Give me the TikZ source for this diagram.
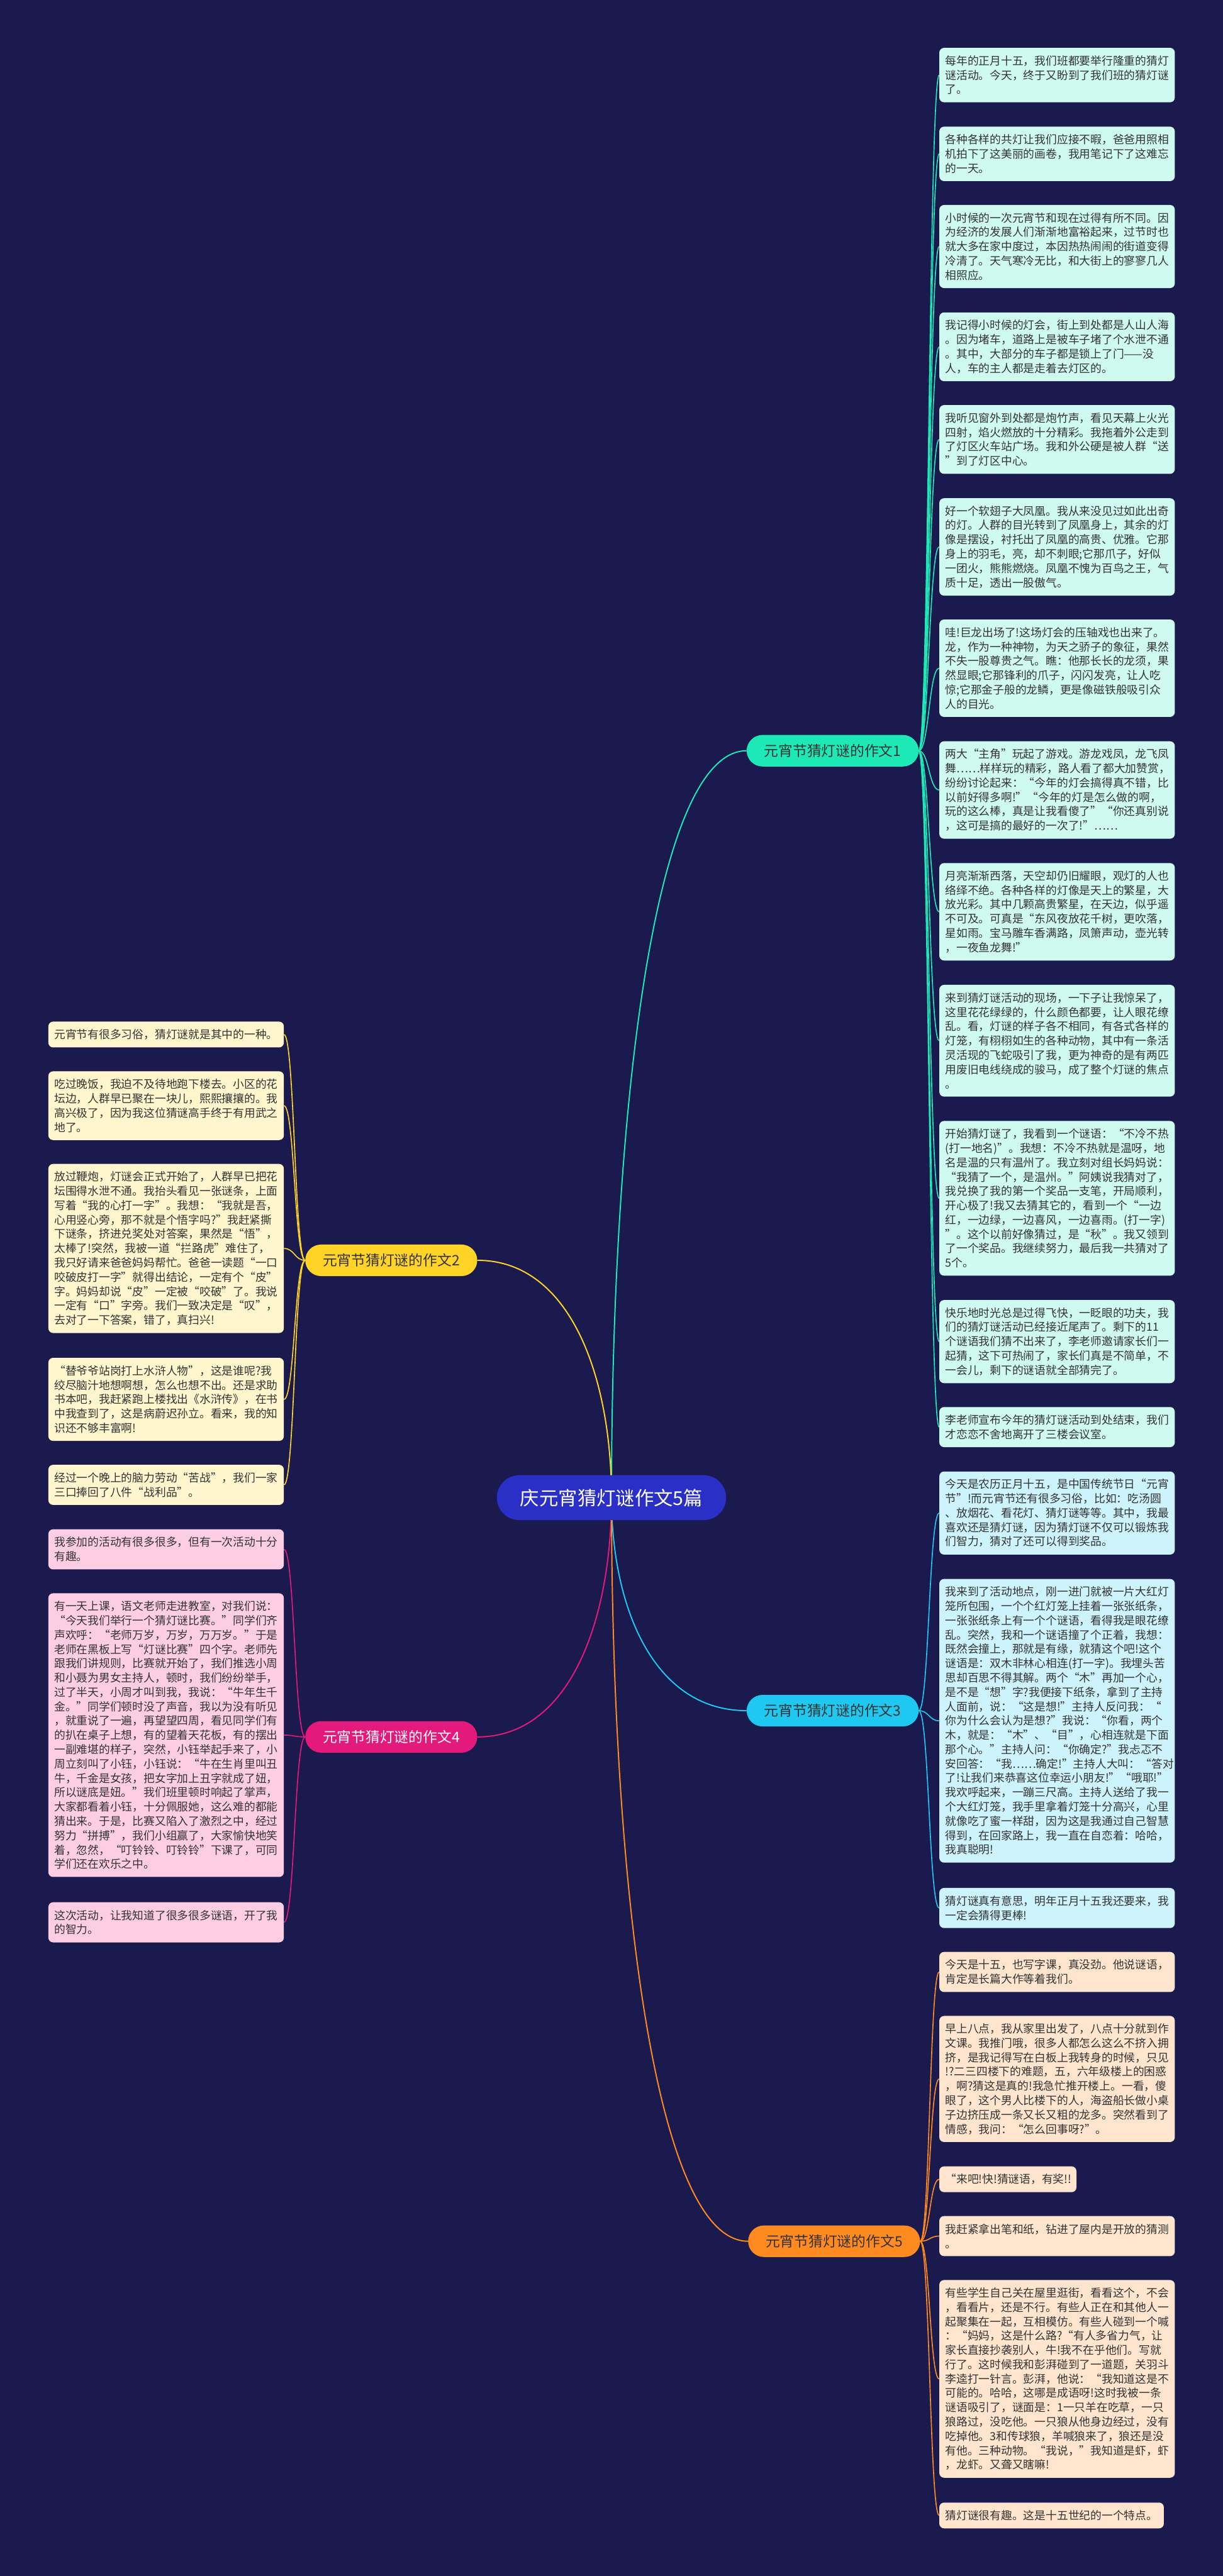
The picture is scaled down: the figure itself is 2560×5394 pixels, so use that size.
\documentclass[tikz,border=0pt]{standalone}
\usepackage{fontspec}
\newfontfamily\cjk{Noto Sans CJK SC}
\usetikzlibrary{calc}
\pgfdeclarelayer{bglayer}
\pgfdeclarelayer{edgelayer}
\pgfsetlayers{bglayer,edgelayer,main}
\definecolor{bgcol}{HTML}{1B1A4F}
\definecolor{ccol}{HTML}{2A2FC8}
\definecolor{aone}{HTML}{1DE9B6}
\definecolor{atwo}{HTML}{FFD426}
\definecolor{athree}{HTML}{1EC8F0}
\definecolor{afour}{HTML}{E3197B}
\definecolor{afive}{HTML}{FF8A1F}
\definecolor{lone}{HTML}{CFFAF0}
\definecolor{ltwo}{HTML}{FFF6CE}
\definecolor{lthree}{HTML}{CDF3FC}
\definecolor{lfour}{HTML}{FDCDE3}
\definecolor{lfive}{HTML}{FFE5CE}
\definecolor{ltext}{HTML}{333333}
\newcommand\mybranch[3]{\draw[#3] (#1) .. controls ($(#1)!0.5!(#1 |- #2)$) and ($(#1 |- #2)!0.3!(#2)$) .. (#2);}
\newcommand\myleaf[3]{\draw[#3] (#1) .. controls ($(#1)!0.5!(#1 -| #2)$) and ($(#2)!0.5!(#2 -| #1)$) .. (#2);}
\begin{document}
\begin{tikzpicture}[x=1pt,y=-1pt,
  leafbox/.style={rounded corners=10pt, inner xsep=12.5pt, inner ysep=0pt, anchor=north west, text width=468pt, align=left, text=ltext, font={\cjk\fontsize{23.4pt}{30pt}\selectfont}},
  nl/.style={minimum height={#1*30pt+24pt}},
  topicbox/.style={rounded corners=33pt, minimum width=360pt, minimum height=66pt, inner sep=0pt, font={\cjk\fontsize{30pt}{36pt}\selectfont}},
  brline/.style={line width=2.6pt},
  lfline/.style={line width=2.2pt}]
\begin{pgfonlayer}{bglayer}
\fill[bgcol] (0,0) rectangle (2560,5394);
\end{pgfonlayer}
\useasboundingbox (0,0) rectangle (2560,5394);

% centre and topics
\node[fill=ccol, text=white, rounded corners=47pt, minimum width=480pt, minimum height=94pt, inner sep=0pt, font={\cjk\fontsize{40pt}{48pt}\selectfont}] (c) at (1280,3136) {庆元宵猜灯谜作文5篇};
\node[topicbox, fill=aone, text=ltext] (t1) at (1743,1572) {元宵节猜灯谜的作文1};
\node[topicbox, fill=atwo, text=ltext] (t2) at (819,2639) {元宵节猜灯谜的作文2};
\node[topicbox, fill=athree, text=ltext] (t3) at (1743,3582) {元宵节猜灯谜的作文3};
\node[topicbox, fill=afour, text=white] (t4) at (819,3637) {元宵节猜灯谜的作文4};
\node[topicbox, fill=afive, text=ltext] (t5) at (1746,4693) {元宵节猜灯谜的作文5};

% right column, topic 1
\node[leafbox, fill=lone, nl=3] (r1) at (1966,100) {每年的正月十五，我们班都要举行隆重的猜灯\\谜活动。今天，终于又盼到了我们班的猜灯谜\\了。};
\node[leafbox, fill=lone, nl=3] (r2) at (1966,265) {各种各样的共灯让我们应接不暇，爸爸用照相\\机拍下了这美丽的画卷，我用笔记下了这难忘\\的一天。};
\node[leafbox, fill=lone, nl=5] (r3) at (1966,429) {小时候的一次元宵节和现在过得有所不同。因\\为经济的发展人们渐渐地富裕起来，过节时也\\就大多在家中度过，本因热热闹闹的街道变得\\冷清了。天气寒冷无比，和大街上的寥寥几人\\相照应。};
\node[leafbox, fill=lone, nl=4] (r4) at (1966,654) {我记得小时候的灯会，街上到处都是人山人海\\。因为堵车，道路上是被车子堵了个水泄不通\\。其中，大部分的车子都是锁上了门——没\\人，车的主人都是走着去灯区的。};
\node[leafbox, fill=lone, nl=4] (r5) at (1966,848) {我听见窗外到处都是炮竹声，看见天幕上火光\\四射，焰火燃放的十分精彩。我拖着外公走到\\了灯区火车站广场。我和外公硬是被人群“送\\”到了灯区中心。};
\node[leafbox, fill=lone, nl=6] (r6) at (1966,1043) {好一个软翅子大凤凰。我从来没见过如此出奇\\的灯。人群的目光转到了凤凰身上，其余的灯\\像是摆设，衬托出了凤凰的高贵、优雅。它那\\身上的羽毛，亮，却不刺眼;它那爪子，好似\\一团火，熊熊燃烧。凤凰不愧为百鸟之王，气\\质十足，透出一股傲气。};
\node[leafbox, fill=lone, nl=6] (r7) at (1966,1297) {哇!巨龙出场了!这场灯会的压轴戏也出来了。\\龙，作为一种神物，为天之骄子的象征，果然\\不失一股尊贵之气。瞧：他那长长的龙须，果\\然显眼;它那锋利的爪子，闪闪发亮，让人吃\\惊;它那金子般的龙鳞，更是像磁铁般吸引众\\人的目光。};
\node[leafbox, fill=lone, nl=6] (r8) at (1966,1552) {两大“主角”玩起了游戏。游龙戏凤，龙飞凤\\舞……样样玩的精彩，路人看了都大加赞赏，\\纷纷讨论起来：“今年的灯会搞得真不错，比\\以前好得多啊!”“今年的灯是怎么做的啊，\\玩的这么棒，真是让我看傻了”“你还真别说\\，这可是搞的最好的一次了!”……};
\node[leafbox, fill=lone, nl=6] (r9) at (1966,1807) {月亮渐渐西落，天空却仍旧耀眼，观灯的人也\\络绎不绝。各种各样的灯像是天上的繁星，大\\放光彩。其中几颗高贵繁星，在天边，似乎遥\\不可及。可真是“东风夜放花千树，更吹落，\\星如雨。宝马雕车香满路，凤箫声动，壶光转\\，一夜鱼龙舞!”};
\node[leafbox, fill=lone, nl=7] (r10) at (1966,2062) {来到猜灯谜活动的现场，一下子让我惊呆了，\\这里花花绿绿的，什么颜色都要，让人眼花缭\\乱。看，灯谜的样子各不相同，有各式各样的\\灯笼，有栩栩如生的各种动物，其中有一条活\\灵活现的飞蛇吸引了我，更为神奇的是有两匹\\用废旧电线绕成的骏马，成了整个灯谜的焦点\\。};
\node[leafbox, fill=lone, nl=10] (r11) at (1966,2347) {开始猜灯谜了，我看到一个谜语：“不冷不热\\(打一地名)”。我想：不冷不热就是温呀，地\\名是温的只有温州了。我立刻对组长妈妈说：\\“我猜了一个，是温州。”阿姨说我猜对了，\\我兑换了我的第一个奖品一支笔，开局顺利，\\开心极了!我又去猜其它的，看到一个“一边\\红，一边绿，一边喜风，一边喜雨。(打一字)\\”。这个以前好像猜过，是“秋”。我又领到\\了一个奖品。我继续努力，最后我一共猜对了\\5个。};
\node[leafbox, fill=lone, nl=5] (r12) at (1966,2722) {快乐地时光总是过得飞快，一眨眼的功夫，我\\们的猜灯谜活动已经接近尾声了。剩下的11\\个谜语我们猜不出来了，李老师邀请家长们一\\起猜，这下可热闹了，家长们真是不简单，不\\一会儿，剩下的谜语就全部猜完了。};
\node[leafbox, fill=lone, nl=2] (r13) at (1966,2946) {李老师宣布今年的猜灯谜活动到处结束，我们\\才恋恋不舍地离开了三楼会议室。};

% topic 3
\node[leafbox, fill=lthree, nl=5] (r14) at (1966,3081) {今天是农历正月十五，是中国传统节日“元宵\\节”!而元宵节还有很多习俗，比如：吃汤圆\\、放烟花、看花灯、猜灯谜等等。其中，我最\\喜欢还是猜灯谜，因为猜灯谜不仅可以锻炼我\\们智力，猜对了还可以得到奖品。};
\node[leafbox, fill=lthree, nl=19] (r15) at (1966,3306) {我来到了活动地点，刚一进门就被一片大红灯\\笼所包围，一个个红灯笼上挂着一张张纸条，\\一张张纸条上有一个个谜语，看得我是眼花缭\\乱。突然，我和一个谜语撞了个正着，我想：\\既然会撞上，那就是有缘，就猜这个吧!这个\\谜语是：双木非林心相连(打一字)。我埋头苦\\思却百思不得其解。两个“木”再加一个心，\\是不是“想”字?我便接下纸条，拿到了主持\\人面前，说：“这是想!”主持人反问我：“\\你为什么会认为是想?”我说：“你看，两个\\木，就是：“木”、“目”，心相连就是下面\\那个心。”主持人问：“你确定?”我忐忑不\\安回答：“我……确定!”主持人大叫：“答对\\了!让我们来恭喜这位幸运小朋友!”“哦耶!”\\我欢呼起来，一蹦三尺高。主持人送给了我一\\个大红灯笼，我手里拿着灯笼十分高兴，心里\\就像吃了蜜一样甜，因为这是我通过自己智慧\\得到，在回家路上，我一直在自恋着：哈哈，\\我真聪明!};
\node[leafbox, fill=lthree, nl=2] (r16) at (1966,3953) {猜灯谜真有意思，明年正月十五我还要来，我\\一定会猜得更棒!};

% topic 5
\node[leafbox, fill=lfive, nl=2] (r17) at (1966,4087) {今天是十五，也写字课，真没劲。他说谜语，\\肯定是长篇大作等着我们。};
\node[leafbox, fill=lfive, nl=8] (r18) at (1966,4221) {早上八点，我从家里出发了，八点十分就到作\\文课。我推门哦，很多人都怎么这么不挤入拥\\挤，是我记得写在白板上我转身的时候，只见\\!?二三四楼下的难题，五，六年级楼上的困惑\\，啊?猜这是真的!我急忙推开楼上。一看，傻\\眼了，这个男人比楼下的人，海盗船长做小桌\\子边挤压成一条又长又粗的龙多。突然看到了\\情感，我问：“怎么回事呀?”。};
\node[leafbox, fill=lfive, nl=1, text width=262pt] (r19) at (1966,4536) {“来吧!快!猜谜语，有奖!!};
\node[leafbox, fill=lfive, nl=2] (r20) at (1966,4640) {我赶紧拿出笔和纸，钻进了屋内是开放的猜测\\。};
\node[leafbox, fill=lfive, nl=13] (r21) at (1966,4774) {有些学生自己关在屋里逛街，看看这个，不会\\，看看片，还是不行。有些人正在和其他人一\\起聚集在一起，互相模仿。有些人碰到一个喊\\：“妈妈，这是什么路?“有人多省力气，让\\家长直接抄袭别人，牛!我不在乎他们。写就\\行了。这时候我和彭湃碰到了一道题，关羽斗\\李逵打一针言。彭湃，他说：“我知道这是不\\可能的。哈哈，这哪是成语呀!这时我被一条\\谜语吸引了，谜面是：1一只羊在吃草，一只\\狼路过，没吃他。一只狼从他身边经过，没有\\吃掉他。3和传球狼，羊喊狼来了，狼还是没\\有他。三种动物。“我说，”我知道是虾，虾\\，龙虾。又聋又瞎嘛!};
\node[leafbox, fill=lfive, nl=1, text width=445pt] (r22) at (1966,5240) {猜灯谜很有趣。这是十五世纪的一个特点。};

% left column, topic 2
\node[leafbox, fill=ltwo, nl=1] (l1) at (101,2139) {元宵节有很多习俗，猜灯谜就是其中的一种。};
\node[leafbox, fill=ltwo, nl=4] (l2) at (101,2243) {吃过晚饭，我迫不及待地跑下楼去。小区的花\\坛边，人群早已聚在一块儿，熙熙攘攘的。我\\高兴极了，因为我这位猜谜高手终于有用武之\\地了。};
\node[leafbox, fill=ltwo, nl=11] (l3) at (101,2437) {放过鞭炮，灯谜会正式开始了，人群早已把花\\坛围得水泄不通。我抬头看见一张谜条，上面\\写着“我的心打一字”。我想：“我就是吾，\\心用竖心旁，那不就是个悟字吗?”我赶紧撕\\下谜条，挤进兑奖处对答案，果然是“悟”，\\太棒了!突然，我被一道“拦路虎”难住了，\\我只好请来爸爸妈妈帮忙。爸爸一读题“一口\\咬破皮打一字”就得出结论，一定有个“皮”\\字。妈妈却说“皮”一定被“咬破”了。我说\\一定有“口”字旁。我们一致决定是“叹”，\\去对了一下答案，错了，真扫兴!};
\node[leafbox, fill=ltwo, nl=5] (l4) at (101,2843) {“替爷爷站岗打上水浒人物”，这是谁呢?我\\绞尽脑汁地想啊想，怎么也想不出。还是求助\\书本吧，我赶紧跑上楼找出《水浒传》，在书\\中我查到了，这是病蔚迟孙立。看来，我的知\\识还不够丰富啊!};
\node[leafbox, fill=ltwo, nl=2] (l5) at (101,3067) {经过一个晚上的脑力劳动“苦战”，我们一家\\三口捧回了八件“战利品”。};

% topic 4
\node[leafbox, fill=lfour, nl=2] (l6) at (101,3202) {我参加的活动有很多很多，但有一次活动十分\\有趣。};
\node[leafbox, fill=lfour, nl=19] (l7) at (101,3336) {有一天上课，语文老师走进教室，对我们说：\\“今天我们举行一个猜灯谜比赛。”同学们齐\\声欢呼：“老师万岁，万岁，万万岁。”于是\\老师在黑板上写“灯谜比赛”四个字。老师先\\跟我们讲规则，比赛就开始了，我们推选小周\\和小聂为男女主持人，顿时，我们纷纷举手，\\过了半天，小周才叫到我，我说：“牛年生千\\金。”同学们顿时没了声音，我以为没有听见\\，就重说了一遍，再望望四周，看见同学们有\\的扒在桌子上想，有的望着天花板，有的摆出\\一副难堪的样子，突然，小钰举起手来了，小\\周立刻叫了小钰，小钰说：“牛在生肖里叫丑\\牛，千金是女孩，把女字加上丑字就成了妞，\\所以谜底是妞。”我们班里顿时响起了掌声，\\大家都看着小钰，十分佩服她，这么难的都能\\猜出来。于是，比赛又陷入了激烈之中，经过\\努力“拼搏”，我们小组赢了，大家愉快地笑\\着，忽然，“叮铃铃、叮铃铃”下课了，可同\\学们还在欢乐之中。};
\node[leafbox, fill=lfour, nl=2] (l8) at (101,3983) {这次活动，让我知道了很多很多谜语，开了我\\的智力。};

\begin{pgfonlayer}{edgelayer}
\mybranch{c.center}{t1.west}{brline, aone}
\mybranch{c.center}{t2.east}{brline, atwo}
\mybranch{c.center}{t3.west}{brline, athree}
\mybranch{c.center}{t4.east}{brline, afour}
\mybranch{c.center}{t5.west}{brline, afive}
\foreach \n in {1,...,13} {\myleaf{t1.east}{r\n.west}{lfline, aone}}
\foreach \n in {14,15,16} {\myleaf{t3.east}{r\n.west}{lfline, athree}}
\foreach \n in {17,...,22} {\myleaf{t5.east}{r\n.west}{lfline, afive}}
\foreach \n in {1,...,5} {\myleaf{t2.west}{l\n.east}{lfline, atwo}}
\foreach \n in {6,7,8} {\myleaf{t4.west}{l\n.east}{lfline, afour}}
\end{pgfonlayer}
\end{tikzpicture}
\end{document}
